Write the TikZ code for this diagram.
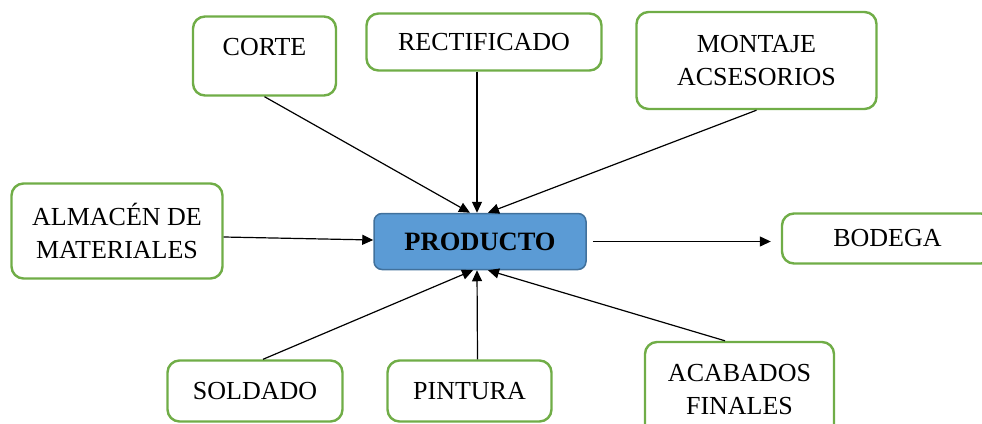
\documentclass[tikz,border=0pt]{standalone}
\usepackage{fontspec}
\setmainfont{Liberation Serif}
\usetikzlibrary{arrows.meta}

\definecolor{stagegreen}{HTML}{70AD47}
\definecolor{prodblue}{HTML}{5B9BD5}
\definecolor{prodedge}{HTML}{41719C}

\begin{document}
\begin{tikzpicture}[x=1pt, y=-1pt,  % one unit per pixel, y going down
    stage/.style={draw=stagegreen, line width=2.4pt, rounded corners=12pt, fill=white,
                  align=center, inner sep=0pt, font=\fontsize{26}{33}\selectfont},
    flow/.style={-{Triangle[length=11pt,width=10pt]}, line width=1.2pt}]

    % Fix the page size
    \useasboundingbox (0,0) rectangle (982,423);
    \clip (0,0) rectangle (982,423);

    % Draw the central box
    \node[draw=prodedge, fill=prodblue, line width=1.5pt, rounded corners=8pt,
          minimum width=212pt, minimum height=56pt,
          font=\fontsize{26.5}{32}\selectfont\bfseries] (prod) at (480,241.5) {PRODUCTO};

    % Draw the stages around it
    \node[stage, minimum width=143pt, minimum height=79pt, text depth=19pt] (corte) at (264.5,56) {CORTE};
    \node[stage, minimum width=235pt, minimum height=57pt] (rectif) at (484,42) {RECTIFICADO};
    \node[stage, minimum width=240pt, minimum height=97pt] (montaje) at (756.5,60.5) {MONTAJE\\ACSESORIOS};
    \node[stage, minimum width=211pt, minimum height=95pt] (almacen) at (117,231) {ALMACÉN DE\\MATERIALES};
    \node[stage, minimum width=211pt, minimum height=50pt] (bodega) at (887.5,238.5) {BODEGA};
    \node[stage, minimum width=175pt, minimum height=61pt] (soldado) at (255,391) {SOLDADO};
    \node[stage, minimum width=164pt, minimum height=61pt] (pintura) at (469.5,391) {PINTURA};
    \node[stage, minimum width=189pt, minimum height=95pt] (acabados) at (739.5,389.5) {ACABADOS\\FINALES};

    % Draw the arrows into the product
    \draw[flow] (corte.south) -- ([xshift=-10pt]prod.north);
    \draw[flow] ([xshift=-7pt]rectif.south) -- ([xshift=-3pt]prod.north);
    \draw[flow] (montaje.south) -- ([xshift=8pt]prod.north);
    \draw[flow] ([yshift=-6pt]almacen.east) -- ([yshift=1.5pt]prod.west);
    \draw[flow] ([xshift=8pt]soldado.north) -- ([xshift=-7pt]prod.south);
    \draw[flow] ([xshift=8pt]pintura.north) -- ([xshift=-3pt]prod.south);
    \draw[flow] ([xshift=-14.5pt]acabados.north) -- ([xshift=8pt]prod.south);

    % Draw the arrow out to the store
    \draw[flow, shorten <=6pt, shorten >=10pt] (prod.east) -- (prod.east -| bodega.west);

\end{tikzpicture}
\end{document}
